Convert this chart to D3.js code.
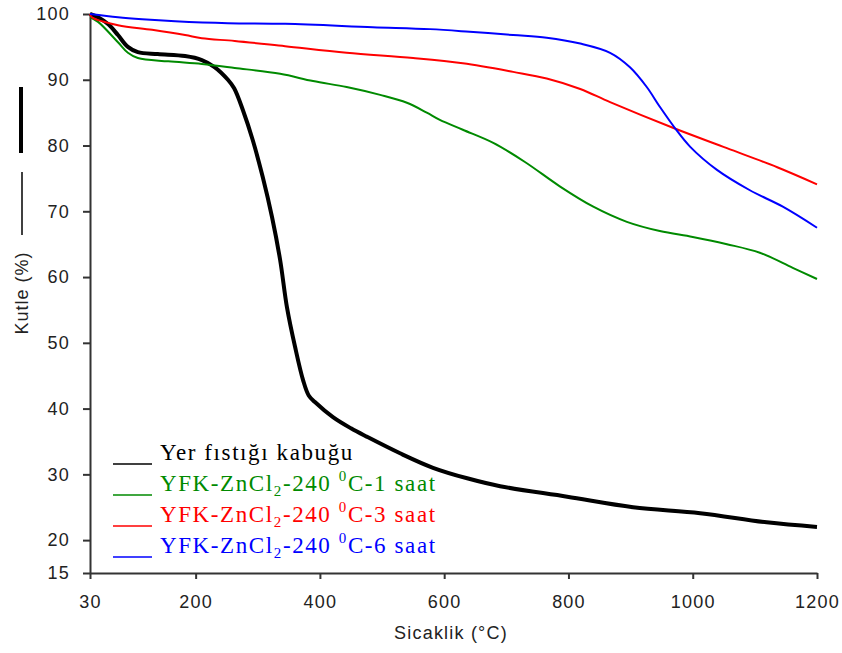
<!DOCTYPE html>
<html>
<head>
<meta charset="utf-8">
<script src="https://cdn.jsdelivr.net/npm/d3@7"></script>
<style>
  html, body { margin: 0; padding: 0; background: #fff; }
  svg { display: block; }
</style>
</head>
<body>
<svg id="chart" width="842" height="653"></svg>
<script>
// ---- Data (temperature °C, mass %) ----
const xTicks = [30, 200, 400, 600, 800, 1000, 1200];
const yTicks = [15, 20, 30, 40, 50, 60, 70, 80, 90, 100];

const seriesNames = [
  "Yer fıstığı kabuğu",
  "YFK-ZnCl2-240 0C-1 saat",
  "YFK-ZnCl2-240 0C-3 saat",
  "YFK-ZnCl2-240 0C-6 saat"
];
const seriesColors = ["#000000", "#008a00", "#ff0000", "#0000ff"];

const rawShell = [[30,100],[45,99.4],[60,98.4],[75,96.8],[91,95],[107,94.2],[139,93.9],[183,93.6],[210,93.0],[231,91.9],[252,90],[262,88.7],[276,85.4],[292,80.8],[308,75.2],[323,69.1],[336,62.6],[347,55.4],[360,49.4],[373,44.3],[382,42.0],[392,41.0],[421,38.7],[450,37.0],[476,35.7],[529,33.2],[582,31.0],[637,29.4],[690,28.2],[798,26.6],[904,25.0],[1012,24.1],[1119,22.7],[1200,22.0]];
const zn1h = [[30,99.5],[43,98.8],[75,95.7],[91,94.1],[107,93.3],[156,92.8],[210,92.4],[263,91.8],[336,90.9],[389,89.8],[443,88.9],[497,87.7],[540,86.5],[572,85],[593,83.9],[630,82.4],[679,80.4],[730,77.5],[786,73.8],[840,70.7],[894,68.4],[947,67],[1000,66.1],[1055,65],[1108,63.7],[1161,61.4],[1200,59.7]];
const zn3h = [[30,100],[33,99.5],[75,98.3],[130,97.6],[183,96.8],[210,96.3],[263,95.9],[344,95.1],[443,94.1],[550,93.3],[630,92.5],[711,91.2],[765,90.2],[819,88.6],[867,86.6],[968,82.7],[1055,79.6],[1136,76.7],[1200,74.1]];
const zn6h = [[30,100],[75,99.5],[114,99.2],[167,98.9],[252,98.6],[344,98.5],[485,98],[577,97.7],[641,97.3],[711,96.8],[765,96.4],[819,95.5],[867,94.1],[899,91.9],[926,88.9],[947,85.9],[971,82.7],[996,79.8],[1039,76.3],[1092,73.2],[1145,70.7],[1200,67.5]];

const seriesData = [rawShell, zn1h, zn3h, zn6h];
const seriesWidths = [4, 2, 2, 2];

// ---- Layout ----
const svg = d3.select("#chart");
const x = d3.scaleLinear().domain([30, 1200]).range([90, 817]);
const y = d3.scaleLinear().domain([15, 100]).range([573, 14]);
const axisColor = "#333";
const sansFont = "'Liberation Sans', Arial, sans-serif";

// Axes
const gx = svg.append("g").attr("transform", "translate(0,573)")
  .call(d3.axisBottom(x).tickValues(xTicks).tickFormat(d3.format("d"))
    .tickSize(6).tickPadding(16).tickSizeOuter(0));
const gy = svg.append("g").attr("transform", "translate(90,0)")
  .call(d3.axisLeft(y).tickValues(yTicks).tickFormat(d3.format("d"))
    .tickSize(7).tickPadding(13).tickSizeOuter(0));
[gx, gy].forEach(g => {
  g.select(".domain").attr("stroke", axisColor).attr("stroke-width", 2);
  g.selectAll(".tick line").attr("stroke", axisColor).attr("stroke-width", 2);
  g.selectAll(".tick text").attr("fill", "#222")
    .style("font-family", sansFont).style("font-size", "18px")
    .style("letter-spacing", "1.2px");
});

// Lines
const line = d3.line().x(d => x(d[0])).y(d => y(d[1])).curve(d3.curveCatmullRom.alpha(0.5));
seriesData.forEach((data, i) => {
  svg.append("path").datum(data)
    .attr("fill", "none")
    .attr("stroke", seriesColors[i])
    .attr("stroke-width", seriesWidths[i])
    .attr("stroke-linejoin", "round")
    .attr("d", line);
});

// Axis titles
svg.append("text")
  .attr("transform", "translate(28,293) rotate(-90)")
  .attr("text-anchor", "middle")
  .style("font-family", sansFont)
  .style("font-size", "18px").style("letter-spacing", "1px").attr("fill", "#222")
  .text("Kutle (%)");
svg.append("line").attr("x1", 21).attr("x2", 21).attr("y1", 87).attr("y2", 153)
  .attr("stroke", "#000").attr("stroke-width", 4);
svg.append("line").attr("x1", 22).attr("x2", 22).attr("y1", 172).attr("y2", 235)
  .attr("stroke", "#000").attr("stroke-width", 1.5);

svg.append("text")
  .attr("x", 451).attr("y", 639)
  .attr("text-anchor", "middle")
  .style("font-family", sansFont)
  .style("font-size", "18px").style("letter-spacing", "1.2px").attr("fill", "#222")
  .text("Sicaklik (°C)");

// Legend
const legendY = [460, 491, 522, 553];
const legend = svg.append("g")
  .style("font-family", "'Liberation Serif', 'Times New Roman', serif")
  .style("font-size", "23px").style("letter-spacing", "1.6px");
seriesNames.forEach((name, i) => {
  const yy = legendY[i];
  legend.append("line").attr("x1", 113).attr("x2", 152)
    .attr("y1", yy + 4).attr("y2", yy + 4)
    .attr("stroke", seriesColors[i]).attr("stroke-width", 1.5);
  const t = legend.append("text").attr("x", 160).attr("y", yy).attr("fill", seriesColors[i]);
  if (i === 0) {
    t.text(name);
  } else {
    const m = name.match(/^(YFK-ZnCl)2(-240 )0(C-\d saat)$/);
    t.append("tspan").text(m[1]);
    t.append("tspan").attr("dy", 5).style("font-size", "15px").text("2");
    t.append("tspan").attr("dy", -5).text(m[2]);
    t.append("tspan").attr("dy", -10).style("font-size", "15px").text("0");
    t.append("tspan").attr("dy", 10).text(m[3]);
  }
});
</script>
</body>
</html>
